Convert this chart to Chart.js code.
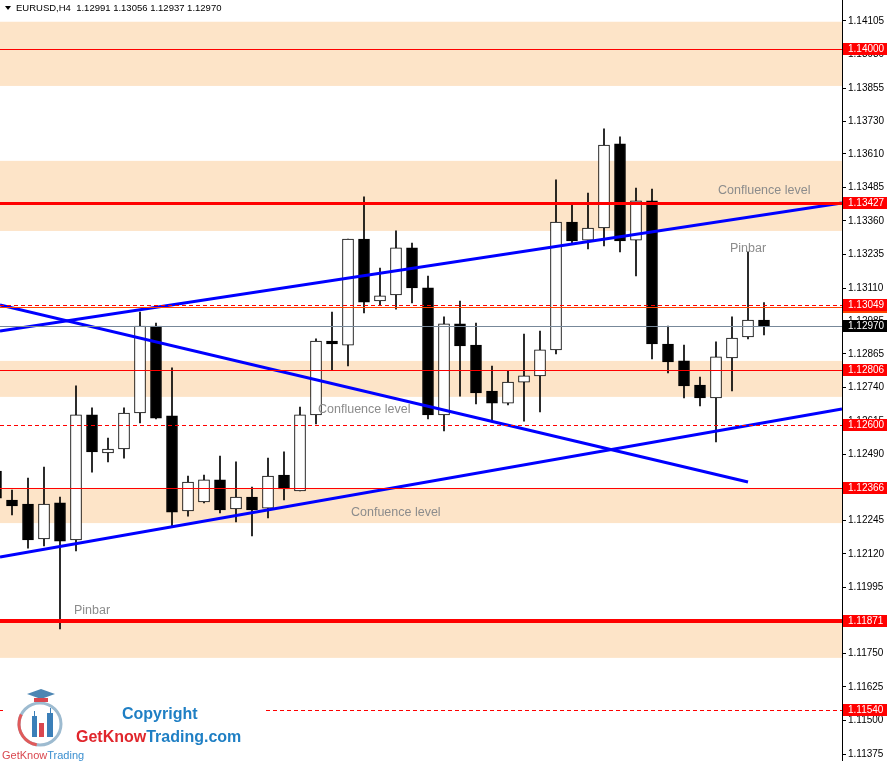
<!DOCTYPE html>
<html>
<head>
<meta charset="utf-8">
<script src="https://cdn.jsdelivr.net/npm/chart.js@4.4.0/dist/chart.umd.min.js"></script>
<style>
  html, body { margin: 0; padding: 0; background: #fff; }
  #wrap { width: 891px; height: 761px; position: relative; }
</style>
</head>
<body>
<div id="wrap"><canvas id="chart"></canvas></div>
<script>
// ---- candles (EURUSD H4) ----
const opens  = [1.12429, 1.12321, 1.12306, 1.12176, 1.12310, 1.12172, 1.12638, 1.12496, 1.12511, 1.12645,
                1.12969, 1.12634, 1.12280, 1.12314, 1.12396, 1.12288, 1.12332, 1.12291, 1.12414, 1.12355,
                1.12638, 1.12913, 1.12898, 1.13293, 1.13062, 1.13085, 1.13260, 1.13111, 1.12638, 1.12977,
                1.12898, 1.12727, 1.12682, 1.12760, 1.12783, 1.12880, 1.13356, 1.13289, 1.13334, 1.13647,
                1.13289, 1.13435, 1.12902, 1.12839, 1.12749, 1.12701, 1.12850, 1.12928, 1.12991];
const highs  = [1.12451, 1.12358, 1.12403, 1.12444, 1.12332, 1.12746, 1.12664, 1.12552, 1.12664, 1.13021,
                1.12980, 1.12813, 1.12410, 1.12414, 1.12485, 1.12463, 1.12369, 1.12477, 1.12500, 1.12667,
                1.12921, 1.13021, 1.13293, 1.13450, 1.13185, 1.13323, 1.13278, 1.13155, 1.13003, 1.13062,
                1.12980, 1.12820, 1.12801, 1.12939, 1.12950, 1.13513, 1.13420, 1.13464, 1.13703, 1.13673,
                1.13483, 1.13479, 1.12969, 1.12898, 1.12779, 1.12910, 1.13003, 1.13245, 1.13056];
const lows   = [1.12299, 1.12265, 1.12142, 1.12150, 1.11841, 1.12131, 1.12425, 1.12463, 1.12477, 1.12608,
                1.12623, 1.12221, 1.12261, 1.12310, 1.12273, 1.12239, 1.12187, 1.12254, 1.12321, 1.12355,
                1.12604, 1.12805, 1.12820, 1.13018, 1.13047, 1.13032, 1.13055, 1.12623, 1.12578, 1.12708,
                1.12679, 1.12612, 1.12675, 1.12615, 1.12649, 1.12865, 1.13278, 1.13256, 1.13267, 1.13245,
                1.13155, 1.12846, 1.12794, 1.12701, 1.12671, 1.12537, 1.12727, 1.12921, 1.12936];
const closes = [1.12328, 1.12299, 1.12172, 1.12306, 1.12168, 1.12638, 1.12500, 1.12511, 1.12645, 1.12969,
                1.12626, 1.12276, 1.12388, 1.12396, 1.12284, 1.12332, 1.12284, 1.12410, 1.12362, 1.12638,
                1.12913, 1.12902, 1.13293, 1.13058, 1.13081, 1.13260, 1.13111, 1.12638, 1.12977, 1.12895,
                1.12720, 1.12682, 1.12760, 1.12783, 1.12880, 1.13356, 1.13286, 1.13334, 1.13643, 1.13286,
                1.13435, 1.12902, 1.12835, 1.12746, 1.12701, 1.12854, 1.12924, 1.12991, 1.12970];

// ---- price axis ----
const priceMin = 1.11349;
const priceMax = 1.14183;
const tickValues = [1.14105, 1.13980, 1.13855, 1.13730, 1.13610, 1.13485, 1.13360, 1.13235, 1.13110, 1.12985,
                    1.12865, 1.12740, 1.12615, 1.12490, 1.12370, 1.12245, 1.12120, 1.11995, 1.11875, 1.11750,
                    1.11625, 1.11500, 1.11375];
const tickLabels = ["1.14105", "1.13980", "1.13855", "1.13730", "1.13610", "1.13485", "1.13360", "1.13235", "1.13110", "1.12985",
                    "1.12865", "1.12740", "1.12615", "1.12490", "1.12370", "1.12245", "1.12120", "1.11995", "1.11875", "1.11750",
                    "1.11625", "1.11500", "1.11375"];

// ---- drawn objects ----
const zoneTops    = [1.14102, 1.13584, 1.12839, 1.12366, 1.11870];
const zoneBottoms = [1.13863, 1.13323, 1.12705, 1.12235, 1.11733];

const levelPrices = [1.14000, 1.13427, 1.13040, 1.13049, 1.12970, 1.12806, 1.12600, 1.12366, 1.11871, 1.11540];
const levelKinds  = ["thin", "thick", "orange", "dash", "bid", "thin", "dash", "thin", "heavy", "dash"];

const trendX1 = [0.25, 0.25, 0.25];
const trendP1 = [1.12950, 1.13047, 1.12109];
const trendX2 = [52.875, 47, 52.875];
const trendP2 = [1.13427, 1.12388, 1.12660];

const noteTexts = ["Confluence level", "Pinbar", "Confluence level", "Confuence level", "Pinbar"];
const noteX     = [45.125, 45.875, 20.125, 22.1875, 4.875];
const noteP     = [1.13472, 1.13256, 1.12656, 1.12276, 1.11911];

const headerText = "EURUSD,H4  1.12991 1.13056 1.12937 1.12970";

// ---- styles ----
const ZONE_COLOR = "#fde4c8";
const LEVEL_STYLE = {
    thin:   { color: "#ff0000", width: 1, dash: [],     label: "#ff0000" },
    thick:  { color: "#ff0000", width: 3, dash: [],     label: "#ff0000" },
    heavy:  { color: "#ff0000", width: 4, dash: [],     label: "#ff0000" },
    dash:   { color: "#ff0000", width: 1, dash: [4, 3], label: "#ff0000" },
    orange: { color: "#ff4500", width: 1, dash: [],     label: "#ff4500" },
    bid:    { color: "#778899", width: 1, dash: [],     label: "#000000" },
};
const AXIS_FONT = "10px 'Liberation Sans', Arial, sans-serif";

const idx = opens.map((_, i) => i);

/* ===================== OVERLAY PLUGIN ===================== */
const overlay = {
    id: "overlay",
    beforeDatasetsDraw(chart) {
        const { ctx, chartArea: a, scales: { y } } = chart;
        ctx.save();
        ctx.fillStyle = ZONE_COLOR;
        zoneTops.forEach((top, i) => {
            const y1 = y.getPixelForValue(top);
            const y2 = y.getPixelForValue(zoneBottoms[i]);
            ctx.fillRect(a.left, y1, a.right - a.left, y2 - y1);
        });
        ctx.restore();
    },
    afterDatasetsDraw(chart) {
        const { ctx, chartArea: a, scales: { x, y } } = chart;
        ctx.save();
        // horizontal levels
        levelPrices.forEach((p, i) => {
            const st = LEVEL_STYLE[levelKinds[i]];
            const py = Math.round(y.getPixelForValue(p)) + (st.width % 2 ? 0.5 : 0);
            ctx.strokeStyle = st.color;
            ctx.lineWidth = st.width;
            ctx.setLineDash(st.dash);
            ctx.beginPath();
            ctx.moveTo(a.left, py);
            ctx.lineTo(a.right, py);
            ctx.stroke();
        });
        ctx.setLineDash([]);

        // notes
        ctx.fillStyle = "#8c8c8c";
        ctx.font = "12.5px 'Liberation Sans', Arial, sans-serif";
        ctx.textBaseline = "middle";
        noteTexts.forEach((t, i) => {
            ctx.fillText(t, x.getPixelForValue(noteX[i]), y.getPixelForValue(noteP[i]));
        });

        // header
        ctx.fillStyle = "#000";
        ctx.beginPath();
        ctx.moveTo(5, 6); ctx.lineTo(11, 6); ctx.lineTo(8, 10); ctx.closePath();
        ctx.fill();
        ctx.font = "9.5px 'Liberation Sans', Arial, sans-serif";
        ctx.fillText(headerText, 16, 8.5);
        ctx.restore();
    },
    afterDraw(chart) {
        const { ctx, chartArea: a, scales: { y } } = chart;
        ctx.save();
        // price labels on the axis
        ctx.font = AXIS_FONT;
        ctx.textBaseline = "middle";
        levelPrices.forEach((p, i) => {
            const st = LEVEL_STYLE[levelKinds[i]];
            const py = Math.round(y.getPixelForValue(p));
            ctx.fillStyle = st.label;
            ctx.fillRect(a.right + 1, py - 6, 44, 12);
            ctx.fillStyle = "#fff";
            ctx.fillText(p.toFixed(5), a.right + 6, py + 0.5);
        });

        // watermark logo
        ctx.fillStyle = "#fff";
        ctx.fillRect(3, 688, 260, 73);

        ctx.lineWidth = 3;
        ctx.strokeStyle = "#9dbbd0";
        ctx.beginPath(); ctx.arc(40, 724, 21, 0, Math.PI * 2); ctx.stroke();
        ctx.strokeStyle = "#e05a5a";
        ctx.beginPath(); ctx.arc(40, 724, 21, Math.PI * 0.55, Math.PI * 1.15); ctx.stroke();

        ctx.fillStyle = "#3b7fb8";
        ctx.fillRect(32, 716, 5, 21); ctx.fillRect(47, 713, 6, 24);
        ctx.fillStyle = "#d9474f";
        ctx.fillRect(39, 723, 5, 14);
        ctx.lineWidth = 1;
        ctx.strokeStyle = "#3b7fb8";
        ctx.beginPath(); ctx.moveTo(34.5, 711); ctx.lineTo(34.5, 716); ctx.moveTo(50.5, 708); ctx.lineTo(50.5, 713); ctx.stroke();

        ctx.fillStyle = "#4d86b3";
        ctx.beginPath();
        ctx.moveTo(27, 694); ctx.lineTo(41, 689); ctx.lineTo(55, 694); ctx.lineTo(41, 699); ctx.closePath();
        ctx.fill();
        ctx.fillStyle = "#d9474f";
        ctx.fillRect(34, 698, 14, 4);

        ctx.textBaseline = "alphabetic";
        ctx.font = "11px 'Liberation Sans', Arial, sans-serif";
        ctx.fillStyle = "#d9474f";
        ctx.fillText("GetKnow", 2, 759);
        const w1 = ctx.measureText("GetKnow").width;
        ctx.fillStyle = "#3b8fd0";
        ctx.fillText("Trading", 2 + w1, 759);

        ctx.font = "bold 16px 'Liberation Sans', Arial, sans-serif";
        ctx.fillStyle = "#1f7fc4";
        ctx.fillText("Copyright", 122, 719);
        ctx.fillStyle = "#e0262c";
        ctx.fillText("GetKnow", 76, 742);
        const w2 = ctx.measureText("GetKnow").width;
        ctx.fillStyle = "#1f7fc4";
        ctx.fillText("Trading.com", 76 + w2, 742);
        ctx.restore();
    },
};

/* ===================== CHART ===================== */
const trendSets = trendX1.map((x1, i) => ({
    type: "line",
    data: [{ x: x1, y: trendP1[i] }, { x: trendX2[i], y: trendP2[i] }],
    borderColor: "#0000ff",
    borderWidth: 3,
    pointRadius: 0,
    order: 0,
}));

new Chart(document.getElementById("chart"), {
    type: "bar",
    data: {
        datasets: [
            ...trendSets,
            {
                label: "body",
                data: idx.map((i) => ({ x: i, y: [opens[i], closes[i]] })),
                backgroundColor: idx.map((i) => (closes[i] >= opens[i] ? "#ffffff" : "#000000")),
                borderColor: "#000000",
                borderWidth: 1,
                borderSkipped: false,
                barThickness: 11,
                grouped: false,
                order: 1,
            },
            {
                label: "wick",
                data: idx.map((i) => ({ x: i, y: [lows[i], highs[i]] })),
                backgroundColor: "#000000",
                borderWidth: 0,
                barThickness: 1,
                grouped: false,
                order: 2,
            },
        ],
    },
    options: {
        responsive: true,
        maintainAspectRatio: false,
        animation: false,
        events: [],
        layout: { padding: 0 },
        plugins: {
            legend: { display: false },
            tooltip: { enabled: false },
        },
        scales: {
            x: {
                type: "linear",
                min: 0.25,
                max: 52.875,
                display: false,
                offset: false,
            },
            y: {
                type: "linear",
                position: "right",
                min: priceMin,
                max: priceMax,
                afterFit(s) {
                    s.width = 49;
                    s.paddingTop = 0;
                    s.paddingBottom = 0;
                },
                afterBuildTicks(s) { s.ticks = tickValues.map((v) => ({ value: v })); },
                ticks: {
                    autoSkip: false,
                    color: "#000",
                    padding: 2,
                    font: { family: "'Liberation Sans', Arial, sans-serif", size: 10 },
                    callback: (v, i) => tickLabels[i],
                },
                grid: { drawOnChartArea: false, drawTicks: true, tickLength: 4, color: "#000" },
                border: { display: true, color: "#000", width: 1 },
            },
        },
    },
    plugins: [overlay],
});
</script>
</body>
</html>
